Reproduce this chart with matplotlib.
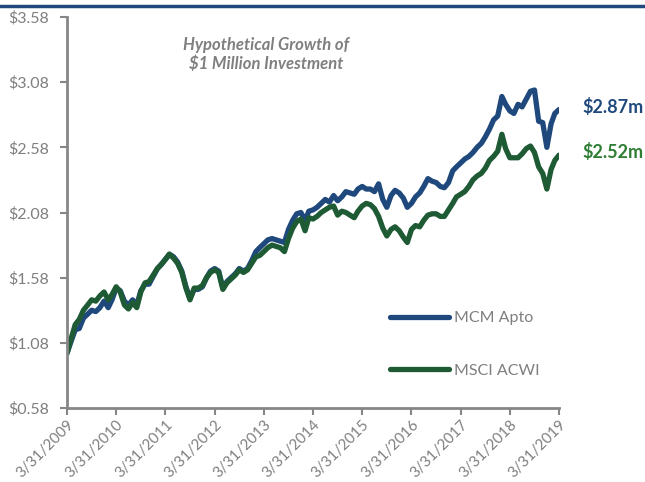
import numpy as np
import pandas as pd
import matplotlib
matplotlib.use("Agg")
from matplotlib import pyplot as plt
from matplotlib.lines import Line2D

plt.rcParams['font.family'] = ['Lato', 'DejaVu Sans']

# monthly growth of $1m, 3/2009 .. 3/2019
dates = pd.date_range('2009-03-31', periods=121, freq='ME')

msci = [1.00, 1.11, 1.22, 1.26, 1.33, 1.37, 1.41, 1.40, 1.44, 1.47, 1.41, 1.45,
        1.51, 1.47, 1.37, 1.34, 1.39, 1.35, 1.47, 1.54, 1.55, 1.60, 1.65, 1.68,
        1.72, 1.76, 1.73, 1.69, 1.62, 1.50, 1.41, 1.50, 1.50, 1.52, 1.58, 1.62,
        1.64, 1.62, 1.49, 1.54, 1.57, 1.60, 1.64, 1.62, 1.64, 1.69, 1.74, 1.75,
        1.78, 1.81, 1.83, 1.82, 1.81, 1.78, 1.88, 1.96, 2.01, 2.03, 1.94, 2.04,
        2.03, 2.05, 2.08, 2.10, 2.12, 2.13, 2.06, 2.09, 2.08, 2.06, 2.04, 2.09,
        2.13, 2.15, 2.14, 2.11, 2.05, 1.96, 1.90, 1.95, 1.97, 1.94, 1.89, 1.85,
        1.95, 1.98, 1.97, 2.02, 2.06, 2.07, 2.07, 2.05, 2.05, 2.10, 2.15, 2.20,
        2.22, 2.24, 2.28, 2.33, 2.36, 2.38, 2.42, 2.48, 2.51, 2.55, 2.68, 2.57,
        2.50, 2.50, 2.50, 2.53, 2.57, 2.59, 2.54, 2.43, 2.38, 2.26, 2.41, 2.48,
        2.52]

apto = [1.00, 1.09, 1.18, 1.19, 1.27, 1.30, 1.33, 1.32, 1.35, 1.40, 1.35, 1.41,
        1.50, 1.48, 1.40, 1.37, 1.41, 1.37, 1.48, 1.53, 1.53, 1.59, 1.65, 1.68,
        1.72, 1.76, 1.74, 1.70, 1.63, 1.51, 1.42, 1.49, 1.49, 1.51, 1.58, 1.63,
        1.65, 1.63, 1.50, 1.55, 1.58, 1.61, 1.65, 1.63, 1.65, 1.71, 1.78, 1.81,
        1.84, 1.87, 1.88, 1.87, 1.86, 1.85, 1.95, 2.02, 2.07, 2.08, 2.02, 2.09,
        2.10, 2.12, 2.15, 2.18, 2.16, 2.21, 2.17, 2.20, 2.24, 2.23, 2.22, 2.26,
        2.28, 2.26, 2.26, 2.24, 2.30, 2.18, 2.12, 2.21, 2.25, 2.23, 2.19, 2.12,
        2.15, 2.20, 2.23, 2.28, 2.34, 2.32, 2.31, 2.28, 2.27, 2.31, 2.40, 2.43,
        2.46, 2.49, 2.51, 2.54, 2.58, 2.61, 2.66, 2.72, 2.79, 2.82, 2.97, 2.91,
        2.86, 2.84, 2.91, 2.89, 2.95, 3.01, 3.02, 2.78, 2.77, 2.58, 2.76, 2.84,
        2.87]

years = list(range(2009, 2020))
xtick_dates = pd.to_datetime([f'{y}-03-31' for y in years])
xtick_labels = [f'3/31/{y}' for y in years]
yticks = [0.58, 1.08, 1.58, 2.08, 2.58, 3.08, 3.58]
ytick_labels = [f'${v:.2f}' for v in yticks]

blue = '#1f497d'
green = '#1e5b35'
grey = '#7f7f7f'

fig = plt.figure(figsize=(6.45, 4.82), dpi=100)
ax = fig.add_axes([67/645, 1 - 408/482, (559 - 67)/645, (408 - 17)/482])

ax.plot(dates, apto, color=blue, lw=3.8, label='MCM Apto', solid_capstyle='round', solid_joinstyle='round')
ax.plot(dates, msci, color=green, lw=3.8, label='MSCI ACWI', solid_capstyle='round', solid_joinstyle='round')

ax.set_xlim(dates[0], dates[-1])
ax.set_ylim(0.58, 3.58)
ax.set_yticks(yticks)
ax.set_yticklabels(ytick_labels)
ax.set_xticks(xtick_dates)
ax.set_xticklabels(xtick_labels, rotation=45, ha='right', rotation_mode='anchor')

for s in ['top', 'right']:
    ax.spines[s].set_visible(False)
for s in ['left', 'bottom']:
    ax.spines[s].set_color('#868686')
    ax.spines[s].set_linewidth(2)
ax.tick_params(colors='#868686', width=1.5, length=5, labelcolor=grey, labelsize=11.5)
ax.tick_params(axis='x', pad=2, labelsize=10.8)
ax.tick_params(axis='y', pad=8)

ax.text(0.405, 0.95, 'Hypothetical Growth of\n$1 Million Investment', transform=ax.transAxes,
        ha='center', va='top', color=grey, fontsize=12, fontstyle='italic', fontweight='bold',
        linespacing=1.25)

ax.annotate(f'${apto[-1]:.2f}m', xy=(dates[-1], apto[-1]), xytext=(17, 2), textcoords='offset points',
            color=blue, fontsize=13, fontweight='bold', va='center', ha='left', annotation_clip=False)
ax.annotate(f'${msci[-1]:.2f}m', xy=(dates[-1], msci[-1]), xytext=(17, 2), textcoords='offset points',
            color='#2e7d32', fontsize=13, fontweight='bold', va='center', ha='left', annotation_clip=False)

leg = ax.legend(loc='upper left', bbox_to_anchor=(390/645, 1 - 311/482), bbox_transform=fig.transFigure,
                frameon=False, fontsize=11.5, handlelength=3.7, handletextpad=0.3, labelspacing=2.4,
                borderpad=0, borderaxespad=0)
for t in leg.get_texts():
    t.set_color(grey)

# dark rule across the top
fig.add_artist(Line2D([0, 1], [1 - 6/482, 1 - 6/482], transform=fig.transFigure, color=blue, lw=2.5))

fig.savefig('out.png', dpi=100)
